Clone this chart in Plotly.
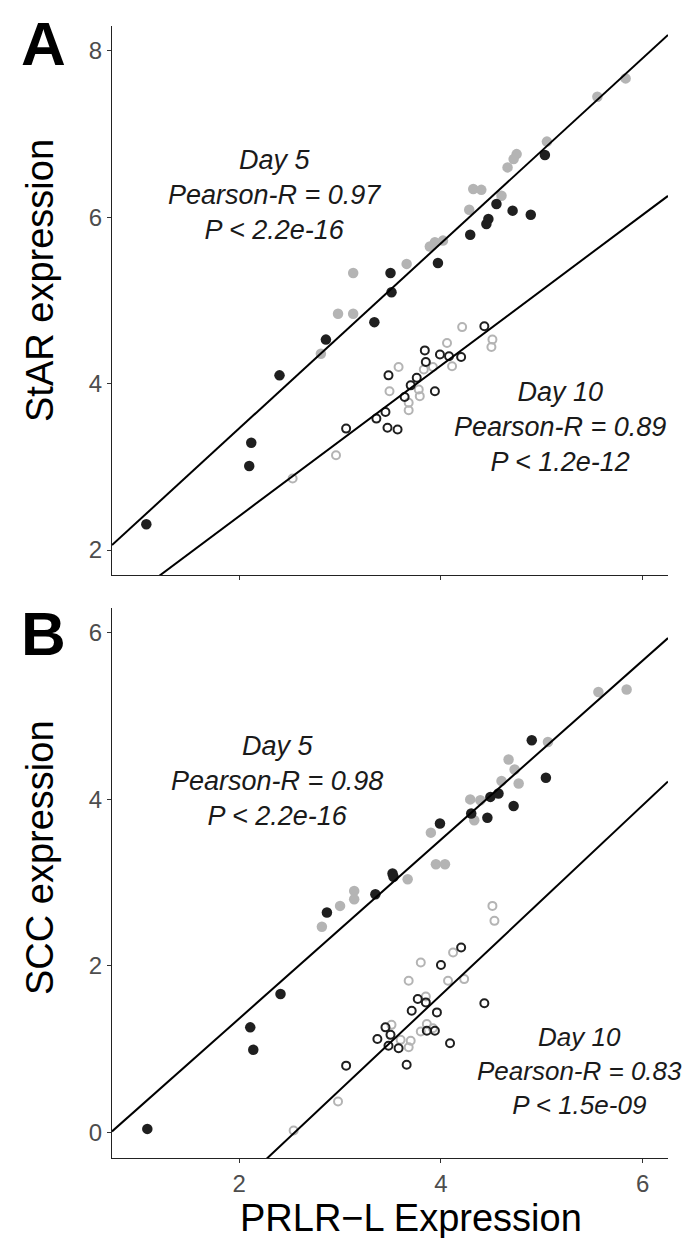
import plotly.graph_objects as go

# ---------------- Panel A: StAR expression ----------------
A_d5_gray_x = [5.83, 5.55, 5.05, 4.75, 4.72, 4.66, 4.32, 4.40, 4.60, 4.28, 3.94, 4.02, 3.89, 3.66, 3.13, 2.98, 3.13, 2.81]
A_d5_gray_y = [7.67, 7.45, 6.91, 6.76, 6.70, 6.60, 6.34, 6.33, 6.26, 6.09, 5.70, 5.72, 5.65, 5.44, 5.33, 4.84, 4.84, 4.36]
A_d5_dark_x = [5.03, 4.55, 4.47, 4.45, 4.71, 4.89, 4.29, 3.97, 3.50, 3.51, 3.34, 2.86, 2.40, 2.12, 2.10, 1.08]
A_d5_dark_y = [6.75, 6.16, 5.98, 5.92, 6.08, 6.03, 5.79, 5.45, 5.33, 5.10, 4.74, 4.53, 4.10, 3.29, 3.01, 2.31]
A_d10_gray_x = [4.21, 4.06, 4.51, 4.50, 4.11, 3.58, 3.83, 3.92, 3.49, 3.78, 3.79, 3.68, 3.68, 2.96, 2.53]
A_d10_gray_y = [4.68, 4.49, 4.53, 4.44, 4.21, 4.20, 4.17, 4.20, 3.91, 3.93, 3.85, 3.77, 3.68, 3.14, 2.86]
A_d10_dark_x = [4.43, 3.84, 3.85, 3.99, 4.08, 4.20, 3.48, 3.76, 3.70, 3.64, 3.94, 3.45, 3.36, 3.47, 3.57, 3.06]
A_d10_dark_y = [4.69, 4.40, 4.26, 4.35, 4.33, 4.32, 4.10, 4.07, 3.98, 3.84, 3.91, 3.66, 3.58, 3.47, 3.45, 3.46]
A_fit_d5 = (1.236, 1.113)    # intercept, slope
A_fit_d10 = (0.595, 0.906)

# ---------------- Panel B: SCC expression ----------------
B_d5_gray_x = [5.56, 5.84, 5.06, 4.67, 4.73, 4.60, 4.77, 4.29, 4.39, 4.33, 3.90, 3.95, 4.04, 3.67, 3.14, 3.14, 3.00, 2.82]
B_d5_gray_y = [5.29, 5.32, 4.69, 4.48, 4.36, 4.22, 4.19, 4.00, 3.99, 3.75, 3.60, 3.22, 3.22, 3.04, 2.90, 2.80, 2.72, 2.47]
B_d5_dark_x = [4.90, 5.04, 4.49, 4.57, 4.72, 4.30, 4.46, 3.99, 3.52, 3.53, 3.35, 2.87, 2.41, 2.11, 2.14, 1.09]
B_d5_dark_y = [4.71, 4.26, 4.03, 4.07, 3.92, 3.83, 3.78, 3.71, 3.11, 3.07, 2.86, 2.64, 1.66, 1.26, 0.99, 0.04]
B_d10_gray_x = [4.51, 4.53, 4.12, 3.80, 3.68, 4.07, 4.23, 3.85, 3.51, 3.86, 3.80, 3.92, 3.60, 3.70, 3.68, 2.98, 2.54]
B_d10_gray_y = [2.72, 2.54, 2.16, 2.04, 1.82, 1.82, 1.84, 1.63, 1.29, 1.30, 1.21, 1.25, 1.11, 1.10, 1.02, 0.37, 0.02]
B_d10_dark_x = [4.20, 4.00, 3.77, 3.85, 3.71, 3.96, 3.45, 3.50, 3.37, 3.48, 3.58, 3.86, 3.94, 4.43, 4.09, 3.06, 3.66]
B_d10_dark_y = [2.22, 2.01, 1.60, 1.56, 1.46, 1.44, 1.26, 1.17, 1.12, 1.04, 1.01, 1.22, 1.22, 1.55, 1.07, 0.80, 0.81]
B_fit_d5 = (-0.787, 1.076)
B_fit_d10 = (-2.91, 1.14)

x_ticks = [2, 4, 6]
A_y_ticks = [2, 4, 6, 8]
B_y_ticks = [0, 2, 4, 6]
x_range = [0.74, 6.25]
A_y_range = [1.70, 8.30]
B_y_range = [-0.31, 6.30]

A_labels = ["Day 5", "Pearson-R = 0.97", "P < 2.2e-16"]
A_labels10 = ["Day 10", "Pearson-R = 0.89", "P < 1.2e-12"]
B_labels = ["Day 5", "Pearson-R = 0.98", "P < 2.2e-16"]
B_labels10 = ["Day 10", "Pearson-R = 0.83", "P < 1.5e-09"]

DARK = "#1f1f1f"
GRAY = "#b4b4b4"
FONT = "Liberation Sans"

fig = go.Figure()

def add_panel(xa, ya, d5g, d5d, d10g, d10d, fit5, fit10):
    for (xs, ys), col, sym in [(d5g, GRAY, "circle"), (d5d, DARK, "circle"),
                                (d10g, GRAY, "circle-open"), (d10d, DARK, "circle-open")]:
        if sym == "circle":
            mk = dict(symbol="circle", size=10.5, color=col, line=dict(width=0))
        else:
            mk = dict(symbol="circle-open", size=8, color=col, line=dict(width=2, color=col))
        fig.add_trace(go.Scatter(x=xs, y=ys, mode="markers", marker=mk,
                                 xaxis=xa, yaxis=ya, showlegend=False))
    for b0, b1 in (fit5, fit10):
        lx = [x_range[0], x_range[1]]
        fig.add_trace(go.Scatter(x=lx, y=[b0 + b1 * v for v in lx], mode="lines",
                                 line=dict(color="black", width=2),
                                 xaxis=xa, yaxis=ya, showlegend=False))

add_panel("x", "y", (A_d5_gray_x, A_d5_gray_y), (A_d5_dark_x, A_d5_dark_y),
          (A_d10_gray_x, A_d10_gray_y), (A_d10_dark_x, A_d10_dark_y), A_fit_d5, A_fit_d10)
add_panel("x2", "y2", (B_d5_gray_x, B_d5_gray_y), (B_d5_dark_x, B_d5_dark_y),
          (B_d10_gray_x, B_d10_gray_y), (B_d10_dark_x, B_d10_dark_y), B_fit_d5, B_fit_d10)

W, H = 695, 1238
ml, mr, mt, mb = 104, 35, 18, 88
ph = H - mt - mb

def ydom(top_px, bot_px):
    return [(H - mb - bot_px) / ph, (H - mb - top_px) / ph]

axis_common = dict(showline=True, linecolor="#222222", linewidth=1, mirror=False,
                   showgrid=False, zeroline=False, ticks="outside", ticklen=4,
                   tickcolor="#333333", tickfont=dict(family=FONT, size=24, color="#4d4d4d"))

fig.update_layout(
    width=W, height=H, margin=dict(l=ml, r=mr, t=mt, b=mb),
    paper_bgcolor="white", plot_bgcolor="white",
    xaxis=dict(range=x_range, tickvals=x_ticks, showticklabels=False, anchor="y",
               domain=[0, 1], **axis_common),
    yaxis=dict(range=A_y_range, tickvals=A_y_ticks, domain=ydom(18, 567), anchor="x",
               **axis_common),
    xaxis2=dict(range=x_range, tickvals=x_ticks, anchor="y2", domain=[0, 1], **axis_common),
    yaxis2=dict(range=B_y_range, tickvals=B_y_ticks, domain=ydom(600, 1150), anchor="x2",
                **axis_common),
)

def block(lines, x, y, xref, yref, size=27):
    fig.add_annotation(text="<br>".join("<i>%s</i>" % s for s in lines), x=x, y=y,
                       xref=xref, yref=yref, showarrow=False, align="center",
                       xanchor="center", yanchor="middle",
                       font=dict(family=FONT, size=size, color="#1a1a1a"))

block(A_labels, 2.35, 6.27, "x", "y")
block(A_labels10, 5.18, 3.48, "x", "y")
block(B_labels, 2.38, 4.22, "x2", "y2")
block(B_labels10, 5.37, 0.74, "x2", "y2", size=26)

def px_x(px):
    return (px - ml) / (W - ml - mr)

def px_y(py):
    return (H - mb - py) / ph

def paper_text(text, px, py, size, angle=0):
    fig.add_annotation(text=text, x=px_x(px), y=px_y(py), xref="paper", yref="paper",
                       xanchor="center", yanchor="middle", showarrow=False, textangle=angle,
                       font=dict(family=FONT, size=size, color="black"))

paper_text("<b>A</b>", 35, 35, 62)
paper_text("<b>B</b>", 35, 625, 62)
paper_text("StAR expression", 32, 273, 38, -90)
paper_text("SCC expression", 32, 850, 38, -90)
paper_text("PRLR\u2212L Expression", 403, 1210, 38)

fig.write_html("out.html")
